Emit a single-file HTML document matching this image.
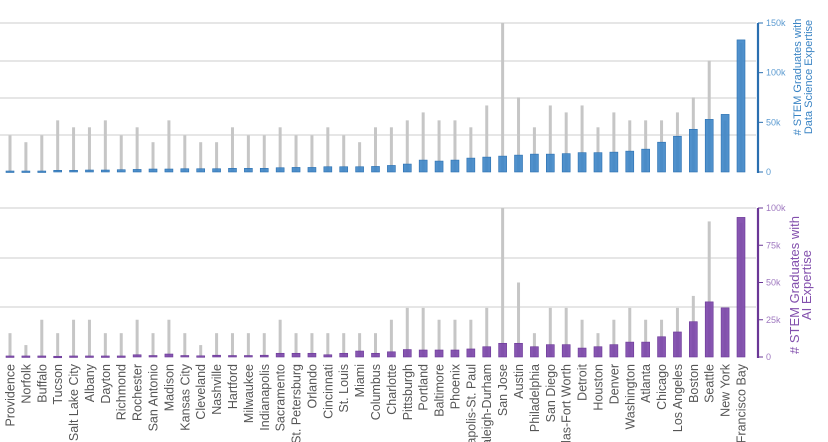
<!DOCTYPE html>
<html><head><meta charset="utf-8"><style>
html,body{margin:0;padding:0;background:#fff;width:828px;height:442px;overflow:hidden}
svg{display:block;font-family:"Liberation Sans",sans-serif}
</style></head><body>
<svg id="chart" width="828" height="442" viewBox="0 0 828 442" xmlns="http://www.w3.org/2000/svg"></svg>
<script>
const cities = ["Providence","Norfolk","Buffalo","Tucson","Salt Lake City","Albany","Dayton","Richmond","Rochester","San Antonio","Madison","Kansas City","Cleveland","Nashville","Hartford","Milwaukee","Indianapolis","Sacramento","St. Petersburg","Orlando","Cincinnati","St. Louis","Miami","Columbus","Charlotte","Pittsburgh","Portland","Baltimore","Phoenix","Minneapolis-St. Paul","Raleigh-Durham","San Jose","Austin","Philadelphia","San Diego","Dallas-Fort Worth","Detroit","Houston","Denver","Washington","Atlanta","Chicago","Los Angeles","Boston","Seattle","New York","San Francisco Bay"];
const dsValues = [1,1,1,1.7,1.7,2,2,2.3,2.6,3,3,3.3,3.3,3.3,3.7,3.7,3.7,4.3,4.6,4.6,5.3,5.3,5.3,5.6,6.6,8,12,11,12,14,15,16,17,18,18,18.5,19.5,19.5,20,21,23,30,36,43,53,58,133];
const dsTotal = [37,30,37,52,45,45,52,37,45,30,52,37,30,30,45,37,37,45,37,37,45,37,30,45,45,52,60,52,52,45,67,150,75,45,67,60,67,45,60,52,52,52,60,75,112,52,130];
const aiValues = [0.7,0.7,0.7,0.5,0.7,0.7,0.7,0.7,1.5,1,2,1,0.8,1.2,1,1,1.2,2.5,2.5,2.5,1.5,2.5,4,2.5,3.5,5,4.7,4.7,4.7,5.4,6.9,9.2,9.2,6.9,8.3,8.3,6,6.9,8.3,10,10,13.6,16.8,23.7,37,33,93.7];
const aiTotal = [16,8,25,16,25,25,16,16,25,16,25,16,8,16,16,16,16,25,16,16,16,16,16,16,25,33,33,25,25,25,33,100,50,16,33,33,25,16,25,33,25,25,33,41,91,33,90];
const dsTicks = [0,50,100,150];
const aiTicks = [0,25,50,75,100];

const NS="http://www.w3.org/2000/svg";
const svg=document.getElementById('chart');
function mk(tag,attrs,parent){const e=document.createElementNS(NS,tag);for(const k in attrs)e.setAttribute(k,attrs[k]);(parent||svg).appendChild(e);return e;}
const x0=10, step=(741-10)/(cities.length-1);
const xPos=i=>x0+i*step;

function panel(opts){
  const g=mk('g',{});
  
  
  const y=v=>opts.base-(v/opts.max)*(opts.base-opts.top);
  opts.grid.forEach(gy=>{
    const l=mk('line',{x1:0,x2:756,y1:gy,y2:gy,stroke:'#dedede','stroke-width':1.5},g);
    
    
  });
  opts.totals.forEach((v,i)=>{
    const r=mk('rect',{x:xPos(i)-1.5,width:3,y:y(v),height:opts.base-y(v),fill:'#c6c6c6'},g);
    
    
  });
  opts.values.forEach((v,i)=>{
    const r=mk('rect',{x:xPos(i)-4,width:8,y:y(v),height:Math.max(1.5,opts.base-y(v)),fill:opts.color,'fill-opacity':0.9,stroke:opts.stroke,'stroke-width':0.6},g);
    
    
  });
  const ax=mk('line',{x1:758,x2:758,y1:opts.top,y2:opts.base+1,stroke:opts.stroke,'stroke-width':2.2},g);
  
  
  opts.ticks.forEach(t=>{
    const ty=y(t);
    const tl=mk('line',{x1:758,x2:763,y1:ty,y2:ty,stroke:opts.stroke,'stroke-width':1},g);
    
    
    const tx=mk('text',{x:766,y:ty+3,'font-size':9,fill:opts.tickColor},g);
    
    
    tx.textContent=t===0?'0':t+'k';
  });
  const tt=mk('text',{transform:`translate(${opts.titleX},${opts.titleY}) rotate(-90)`,'text-anchor':'middle','font-size':opts.titleSize,fill:opts.titleColor},g);
  
  
  opts.title.forEach((ln,k)=>{const s=mk('tspan',{x:0,dy:k===0?0:opts.titleGap},tt);s.textContent=ln;});
}
panel({name:'data-science-panel',top:23,base:172,max:150,grid:[23,61,98,135],values:dsValues,totals:dsTotal,ticks:dsTicks,color:'#3d85c6',stroke:'#2a6fb0',tickColor:'#5c9bd1',titleColor:'#3a84c4',title:['# STEM Graduates with','Data Science Expertise'],titleX:801,titleY:77,titleSize:11,titleGap:11});
panel({name:'ai-panel',top:208,base:357,max:100,grid:[208,258,307],values:aiValues,totals:aiTotal,ticks:aiTicks,color:'#7a44a8',stroke:'#6a3796',tickColor:'#a07ac0',titleColor:'#8350ad',title:['# STEM Graduates with','AI Expertise'],titleX:799,titleY:285,titleSize:13,titleGap:12});
cities.forEach((c,i)=>{
  const t=mk('text',{transform:`translate(${xPos(i)+4.5},364) rotate(-90)`,'text-anchor':'end','font-size':12.5,fill:'#555'});
  
  
  t.textContent=c;
});
</script>
</body></html>
